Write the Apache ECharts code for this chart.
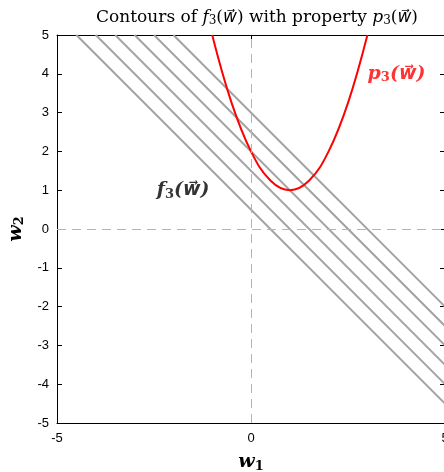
<!DOCTYPE html>
<html>
<head>
<meta charset="utf-8">
<script src="https://cdn.jsdelivr.net/npm/echarts@6/dist/echarts.min.js"></script>
<style>
  html, body { margin: 0; padding: 0; background: #fff; }
  #chart { width: 444px; height: 472px; }
</style>
</head>
<body>
<div id="chart"></div>
<script>
// 등고선 f3 = w1 + w2 = c : 위쪽 끝(w2=5)의 w1, 오른쪽 끝(w1=5)의 w2
const contourTopX = [-4.5, -4, -3.5, -3, -2.5, -2];
const contourRightY = [-4.5, -4, -3.5, -3, -2.5, -2];

// 제약 p3 곡선 (그림에서 읽은 점)
const curveX = [-1, -0.5, 0, 0.5, 1, 1.5, 2, 2.5, 3];
const curveY = [5, 3.25, 2, 1.25, 1, 1.25, 2, 3.25, 5];

// 눈금
const xTicks = [-5, 0, 5];
const yTicks = [-5, -4, -3, -2, -1, 0, 1, 2, 3, 4, 5];

const SERIF = '"DejaVu Serif", "DejaVu Sans", "Noto Sans", "Liberation Serif", serif';
const SANS = '"Liberation Sans", Arial, sans-serif';

const chart = echarts.init(document.getElementById('chart'));

const contourSeries = contourTopX.map((x0, i) => ({
    type: 'line',
    data: [[x0, 5], [5, contourRightY[i]]],
    symbol: 'none',
    silent: true,
    lineStyle: { color: '#a3a3a3', width: 2 },
    z: 2
}));

const frameAxis = {
    min: -5, max: 5,
    axisLine: { show: true, onZero: false, lineStyle: { color: '#000', width: 1 } },
    axisTick: { show: true, inside: true, length: 5, lineStyle: { color: '#000' } },
    axisLabel: { show: false },
    splitLine: { show: false }
};

const option = {
    animation: false,
    title: {
        text: 'Contours of {i|f}{s|3}({i|w⃗}) with property {i|p}{s|3}({i|w⃗})',
        left: 252,
        textAlign: 'center',
        top: 4,
        textStyle: {
            fontFamily: SERIF, fontSize: 17, fontWeight: 'normal', color: '#000',
            rich: {
                i: { fontFamily: SERIF, fontSize: 17, fontStyle: 'italic', color: '#000' },
                s: { fontFamily: SERIF, fontSize: 12, color: '#000', padding: [6, 0, 0, 0] }
            }
        }
    },
    grid: { left: 57, top: 35, width: 388, height: 388, outerBoundsMode: 'none', containLabel: false },
    xAxis: [{
        type: 'value', min: -5, max: 5, interval: 5,
        position: 'bottom',
        axisLine: { show: true, onZero: false, lineStyle: { color: '#000', width: 1 } },
        axisTick: { show: true, inside: true, length: 5, lineStyle: { color: '#000' } },
        axisLabel: { fontFamily: SANS, fontSize: 13, color: '#000', margin: 9,
            customValues: xTicks },
        splitLine: { show: false },
        name: '{b|w}{s|1}',
        nameLocation: 'middle',
        nameGap: 29,
        nameTextStyle: {
            rich: {
                b: { fontFamily: SERIF, fontSize: 19, fontStyle: 'italic', fontWeight: 'bold', color: '#000' },
                s: { fontFamily: SERIF, fontSize: 13, fontWeight: 'bold', color: '#000', padding: [8, 0, 0, 0] }
            }
        }
    }, Object.assign({ type: 'value', position: 'top', interval: 5 }, frameAxis)],
    yAxis: [{
        type: 'value', min: -5, max: 5, interval: 1,
        position: 'left',
        axisLine: { show: true, onZero: false, lineStyle: { color: '#000', width: 1 } },
        axisTick: { show: true, inside: true, length: 5, lineStyle: { color: '#000' } },
        axisLabel: { fontFamily: SANS, fontSize: 13, color: '#000', margin: 8,
            customValues: yTicks },
        splitLine: { show: false },
        name: '{b|w}{s|2}',
        nameLocation: 'middle',
        nameGap: 29,
        nameRotate: 90,
        nameTextStyle: {
            rich: {
                b: { fontFamily: SERIF, fontSize: 19, fontStyle: 'italic', fontWeight: 'bold', color: '#000' },
                s: { fontFamily: SERIF, fontSize: 13, fontWeight: 'bold', color: '#000', padding: [8, 0, 0, 0] }
            }
        }
    }, Object.assign({ type: 'value', position: 'right', interval: 1 }, frameAxis)],
    series: [
        ...contourSeries,
        {
            type: 'line',
            data: curveX.map((x, i) => [x, curveY[i]]),
            smooth: 0.4,
            symbol: 'none',
            silent: true,
            lineStyle: { color: '#ff0000', width: 2 },
            z: 3
        },
        {
            // 점선 기준선 (w1 = 0, w2 = 0)
            type: 'line',
            data: [],
            markLine: {
                silent: true,
                symbol: 'none',
                label: { show: false },
                lineStyle: { color: '#b4b4b4', type: [9, 6], width: 1 },
                data: [{ xAxis: 0 }, { yAxis: 0 }]
            },
            z: 1
        },
        {
            // 텍스트 라벨
            type: 'scatter',
            symbolSize: 0,
            silent: true,
            data: [
                { value: [-1.75, 1.0], label: { formatter: '{b|f}{s|3}{b|(w⃗)}' } },
                { value: [3.75, 4.0], label: { formatter: '{r|p}{t|3}{r|(w⃗)}' } }
            ],
            label: {
                show: true,
                position: 'inside',
                rich: {
                    b: { fontFamily: SERIF, fontSize: 19, fontStyle: 'italic', fontWeight: 'bold', color: '#000' },
                    s: { fontFamily: SERIF, fontSize: 13, fontWeight: 'bold', color: '#000', padding: [8, 0, 0, 0] },
                    r: { fontFamily: SERIF, fontSize: 19, fontStyle: 'italic', fontWeight: 'bold', color: '#ff0000' },
                    t: { fontFamily: SERIF, fontSize: 13, fontWeight: 'bold', color: '#ff0000', padding: [8, 0, 0, 0] }
                }
            },
            z: 5
        }
    ]
};

chart.setOption(option);
window.addEventListener('resize', () => chart.resize());
</script>
</body>
</html>
